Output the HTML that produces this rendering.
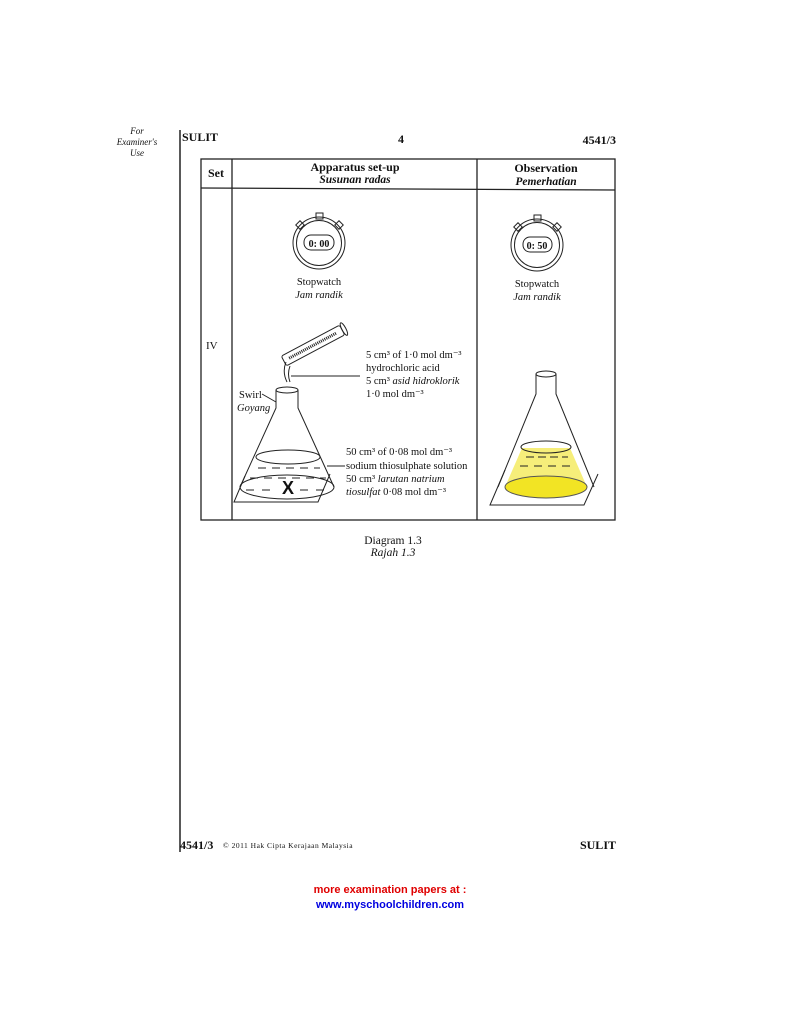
<!DOCTYPE html>
<html><head><meta charset="utf-8"><style>
html,body{margin:0;padding:0;background:#fff;}
svg{display:block;}
text{font-family:"Liberation Serif",serif;fill:#111;}
text.sans{font-family:"Liberation Sans",sans-serif;}
</style></head><body>
<svg width="800" height="1035" viewBox="0 0 800 1035">
<g>
<text x="137" y="134" font-size="9" font-style="italic" text-anchor="middle" fill="#555">For</text>
<text x="137" y="145" font-size="9" font-style="italic" text-anchor="middle" fill="#555">Examiner's</text>
<text x="137" y="156" font-size="9" font-style="italic" text-anchor="middle" fill="#555">Use</text>
<line x1="180" y1="130" x2="180" y2="852" stroke="#222" stroke-width="1.5"/>
</g>
<text x="182" y="141" font-size="12" font-weight="bold">SULIT</text>
<text x="401" y="143" font-size="12" font-weight="bold" text-anchor="middle">4</text>
<text x="616" y="144" font-size="12" font-weight="bold" text-anchor="end">4541/3</text>

<g stroke="#222" fill="none" stroke-width="1.3">
<rect x="201" y="159" width="414" height="361"/>
<line x1="201" y1="188" x2="615" y2="190"/>
<line x1="232" y1="159" x2="232" y2="520"/>
<line x1="477" y1="159" x2="477" y2="520"/>
</g>
<text x="216" y="177" font-size="12" font-weight="bold" text-anchor="middle">Set</text>
<text x="355" y="171" font-size="12" font-weight="bold" text-anchor="middle">Apparatus set-up</text>
<text x="355" y="183" font-size="11.5" font-weight="bold" font-style="italic" text-anchor="middle">Susunan radas</text>
<text x="546" y="172" font-size="12" font-weight="bold" text-anchor="middle">Observation</text>
<text x="546" y="185" font-size="11.5" font-weight="bold" font-style="italic" text-anchor="middle">Pemerhatian</text>
<text x="206" y="349" font-size="11">IV</text>

<g stroke="#222" fill="none" stroke-width="1">
<rect x="316" y="213" width="7" height="6"/>
<rect x="297" y="222" width="6" height="6" transform="rotate(-45 300 225)"/>
<rect x="336" y="222" width="6" height="6" transform="rotate(45 339 225)"/>
<circle cx="319" cy="243" r="26"/><circle cx="319" cy="243" r="22.5"/>
<rect x="304" y="235" width="30" height="15" rx="7"/>
</g>
<text x="319" y="247" font-size="10" font-weight="bold" text-anchor="middle">0: 00</text>
<text x="319" y="285" font-size="10.5" text-anchor="middle">Stopwatch</text>
<text x="319" y="298" font-size="10.5" font-style="italic" text-anchor="middle">Jam randik</text>

<g stroke="#222" fill="none" stroke-width="1">
<rect x="534" y="215" width="7" height="6"/>
<rect x="515" y="224" width="6" height="6" transform="rotate(-45 518 227)"/>
<rect x="554" y="224" width="6" height="6" transform="rotate(45 557 227)"/>
<circle cx="537" cy="245" r="26"/><circle cx="537" cy="245" r="22.5"/>
<rect x="523" y="237" width="29" height="15" rx="7"/>
</g>
<text x="537" y="249" font-size="10" font-weight="bold" text-anchor="middle">0: 50</text>
<text x="537" y="287" font-size="10.5" text-anchor="middle">Stopwatch</text>
<text x="537" y="300" font-size="10.5" font-style="italic" text-anchor="middle">Jam randik</text>

<g stroke="#222" fill="none" stroke-width="1">
<g transform="rotate(-28 315 345)">
<rect x="280" y="339" width="66" height="11" rx="2"/>
<line x1="286" y1="344.5" x2="340" y2="344.5" stroke-dasharray="1 1" stroke-width="3"/>
<ellipse cx="348" cy="344.5" rx="2" ry="7"/>
</g>
<path d="M286 362 Q282 372 287 382 M290 366 Q287 374 290 382"/>
<line x1="291" y1="376" x2="360" y2="376"/>
</g>
<g stroke="#222" fill="none" stroke-width="1">
<ellipse cx="287" cy="390" rx="11" ry="3"/>
<path d="M276 390 L276 408 L240 487 M298 390 L298 408 L334 487"/>
<ellipse cx="287" cy="487" rx="47" ry="12"/>
<ellipse cx="288" cy="457" rx="32" ry="7"/>
<path d="M258 468 h8 M272 468 h8 M286 468 h8 M300 468 h8 M314 468 h6 M250 478 h8 M264 478 h8 M278 478 h8 M292 478 h8 M306 478 h8 M320 478 h6 M246 490 h8 M262 490 h8 M300 490 h8 M316 490 h8"/>
<path d="M245 476 L234 502 L318 502 L330 474"/>
<line x1="327" y1="466" x2="345" y2="466"/>
<path d="M262 394 L276 402" stroke-width="1"/>
</g>
<text class="sans" x="288" y="494" font-size="18" font-weight="bold" text-anchor="middle">X</text>
<text x="239" y="398" font-size="10.5">Swirl</text>
<text x="237" y="411" font-size="10.5" font-style="italic">Goyang</text>
<g font-size="10.5">
<text x="366" y="358">5 cm³ of 1·0 mol dm⁻³</text>
<text x="366" y="371">hydrochloric acid</text>
<text x="366" y="384">5 cm³ <tspan font-style="italic">asid hidroklorik</tspan></text>
<text x="366" y="397">1·0 mol dm⁻³</text>
</g>
<g font-size="10.5">
<text x="346" y="455">50 cm³ of 0·08 mol dm⁻³</text>
<text x="346" y="469">sodium thiosulphate solution</text>
<text x="346" y="482">50 cm³ <tspan font-style="italic">larutan natrium</tspan></text>
<text x="346" y="495"><tspan font-style="italic">tiosulfat</tspan> 0·08 mol dm⁻³</text>
</g>

<g stroke="#222" fill="none" stroke-width="1">
<path d="M522 448 L505 487 A41 11 0 0 0 587 487 L570 448 Z" fill="#f6ee7a" stroke="none"/>
<ellipse cx="546" cy="487" rx="41" ry="11" fill="#f2e424" stroke="#555"/>
<ellipse cx="546" cy="374" rx="10" ry="3"/>
<path d="M536 374 L536 394 L498 487 M556 374 L556 394 L594 487"/>
<ellipse cx="546" cy="447" rx="25" ry="6"/>
<path d="M526 457 h8 M538 457 h8 M550 457 h8 M562 457 h6 M520 466 h8 M534 466 h8 M548 466 h8 M562 466 h8"/>
<path d="M505 470 L490 505 L584 505 L598 474"/>
</g>

<text x="393" y="544" font-size="11.5" text-anchor="middle">Diagram 1.3</text>
<text x="393" y="556" font-size="11.5" font-style="italic" text-anchor="middle">Rajah 1.3</text>

<text x="180" y="849" font-size="12" font-weight="bold">4541/3</text>
<text x="223" y="848" font-size="7.5" letter-spacing="0.5">© 2011 Hak Cipta Kerajaan Malaysia</text>
<text x="616" y="849" font-size="12" font-weight="bold" text-anchor="end">SULIT</text>

<text class="sans" x="390" y="893" font-size="11" font-weight="bold" text-anchor="middle" style="fill:#e00000">more examination papers at :</text>
<text class="sans" x="390" y="908" font-size="11" font-weight="bold" text-anchor="middle" style="fill:#0000e0">www.myschoolchildren.com</text>
</svg>
</body></html>
